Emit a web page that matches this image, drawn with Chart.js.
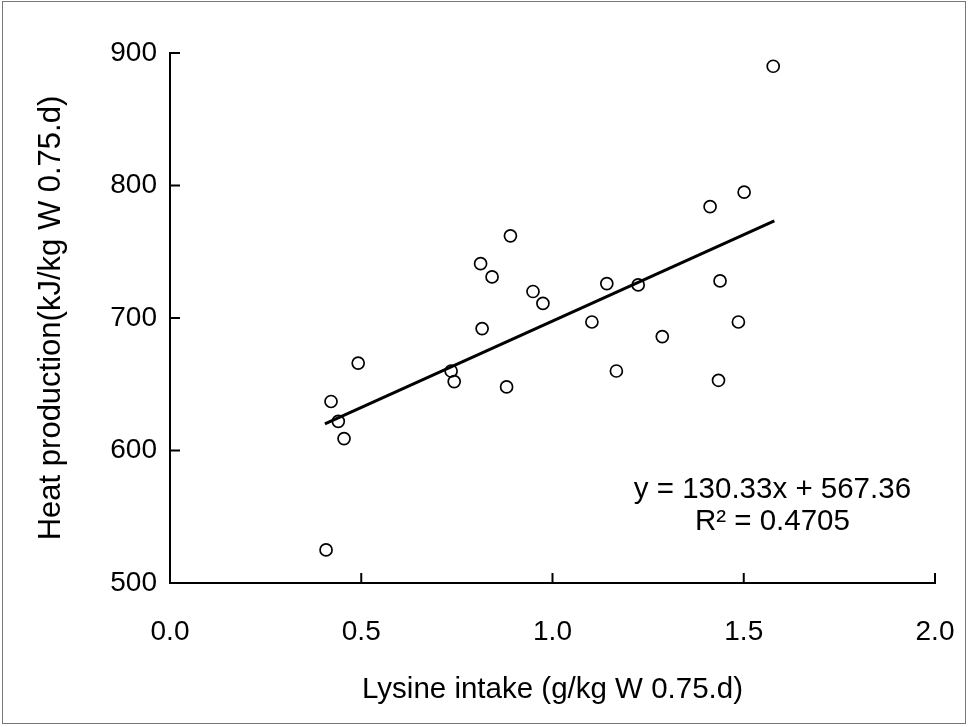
<!DOCTYPE html>
<html>
<head>
<meta charset="utf-8">
<title>Heat production vs lysine intake</title>
<script src="https://cdn.jsdelivr.net/npm/chart.js@4.4.1/dist/chart.umd.min.js"></script>
<style>
    body { margin: 0; background: #fff; }
    #wrap { position: relative; width: 968px; height: 727px; }
    #frame {
        position: absolute; left: 2px; top: 1px; width: 962px; height: 721px;
        border: 1px solid #777; pointer-events: none;
    }
</style>
</head>
<body>
<div id="wrap">
    <canvas id="chart" width="968" height="727"></canvas>
    <div id="frame"></div>
</div>
<script>
// Data
const lysineIntake = [0.408, 0.421, 0.440, 0.455, 0.492, 0.735, 0.743, 0.812, 0.816, 0.842,
                      0.880, 0.890, 0.949, 0.975, 1.103, 1.142, 1.167, 1.224, 1.287, 1.412,
                      1.434, 1.438, 1.486, 1.501, 1.577];
const heatProduction = [525, 637, 622, 609, 666, 660, 652, 741, 692, 731,
                        648, 762, 720, 711, 697, 726, 660, 725, 686, 784,
                        653, 728, 697, 795, 890];

// Trend line endpoints (y = 130.33x + 567.36)
const trendX = [0.405, 1.58];
const trendY = [620.1, 773.3];

const xTicks = [0.0, 0.5, 1.0, 1.5, 2.0];
const yTicks = [500, 600, 700, 800, 900];

const equationText = 'y = 130.33x + 567.36';
const rSquaredText = 'R² = 0.4705';

const FONT = "'Liberation Sans', Arial, sans-serif";
const TICK_SIZE = 28;
const TEXT_SIZE = 29.5;

// Tick marks point inward, like the original
const innerTicks = {
    id: 'innerTicks',
    afterDraw(chart) {
        const { ctx, scales: { x, y } } = chart;
        ctx.save();
        ctx.strokeStyle = '#000';
        ctx.lineWidth = 2;
        xTicks.forEach(v => {
            const px = x.getPixelForValue(v);
            ctx.beginPath();
            ctx.moveTo(px, y.bottom);
            ctx.lineTo(px, y.bottom - 10);
            ctx.stroke();
        });
        yTicks.forEach(v => {
            const py = y.getPixelForValue(v);
            ctx.beginPath();
            ctx.moveTo(x.left, py);
            ctx.lineTo(x.left + 10, py);
            ctx.stroke();
        });
        ctx.restore();
    }
};

// Regression equation label
const equationLabel = {
    id: 'equationLabel',
    afterDraw(chart) {
        const { ctx, scales: { x, y } } = chart;
        const cx = x.getPixelForValue(1.575);
        ctx.save();
        ctx.fillStyle = '#000';
        ctx.font = TEXT_SIZE + 'px ' + FONT;
        ctx.textAlign = 'center';
        ctx.textBaseline = 'middle';
        ctx.fillText(equationText, cx, y.getPixelForValue(570));
        ctx.fillText(rSquaredText, cx, y.getPixelForValue(546.5));
        ctx.restore();
    }
};

const ctx = document.getElementById('chart').getContext('2d');

new Chart(ctx, {
    type: 'scatter',
    data: {
        datasets: [
            {
                label: 'Trend',
                type: 'line',
                data: trendX.map((v, i) => ({ x: v, y: trendY[i] })),
                borderColor: '#000',
                borderWidth: 3,
                pointRadius: 0,
                fill: false
            },
            {
                label: 'Observations',
                data: lysineIntake.map((v, i) => ({ x: v, y: heatProduction[i] })),
                pointStyle: 'circle',
                pointRadius: 6,
                pointBorderWidth: 1.7,
                pointBorderColor: '#000',
                pointBackgroundColor: 'rgba(255,255,255,0)'
            }
        ]
    },
    options: {
        responsive: false,
        animation: false,
        layout: { padding: { top: 53, right: 33, left: 0, bottom: 0 } },
        plugins: {
            legend: { display: false },
            tooltip: { enabled: false }
        },
        scales: {
            x: {
                type: 'linear',
                min: 0,
                max: 2,
                afterFit: s => {
                    s.height = 144;
                    s.paddingLeft = 0;
                    s.paddingRight = 0;
                },
                afterBuildTicks: s => { s.ticks = xTicks.map(v => ({ value: v })); },
                grid: { display: false, drawTicks: false },
                border: { color: '#000', width: 2 },
                ticks: {
                    padding: 32,
                    color: '#000',
                    font: { family: FONT, size: TICK_SIZE },
                    callback: v => v.toFixed(1)
                },
                title: {
                    display: true,
                    text: 'Lysine intake (g/kg W 0.75.d)',
                    color: '#000',
                    font: { family: FONT, size: TEXT_SIZE },
                    padding: { top: 0, bottom: 19 }
                }
            },
            y: {
                type: 'linear',
                min: 500,
                max: 900,
                afterFit: s => {
                    s.width = 170;
                    s.paddingTop = 0;
                    s.paddingBottom = 0;
                },
                afterBuildTicks: s => { s.ticks = yTicks.map(v => ({ value: v })); },
                grid: { display: false, drawTicks: false },
                border: { color: '#000', width: 2 },
                ticks: {
                    padding: 13,
                    color: '#000',
                    font: { family: FONT, size: TICK_SIZE }
                },
                title: {
                    display: true,
                    text: 'Heat production(kJ/kg W 0.75.d)',
                    color: '#000',
                    font: { family: FONT, size: 31 },
                    padding: { top: 33, bottom: 0 }
                }
            }
        }
    },
    plugins: [innerTicks, equationLabel]
});
</script>
</body>
</html>
